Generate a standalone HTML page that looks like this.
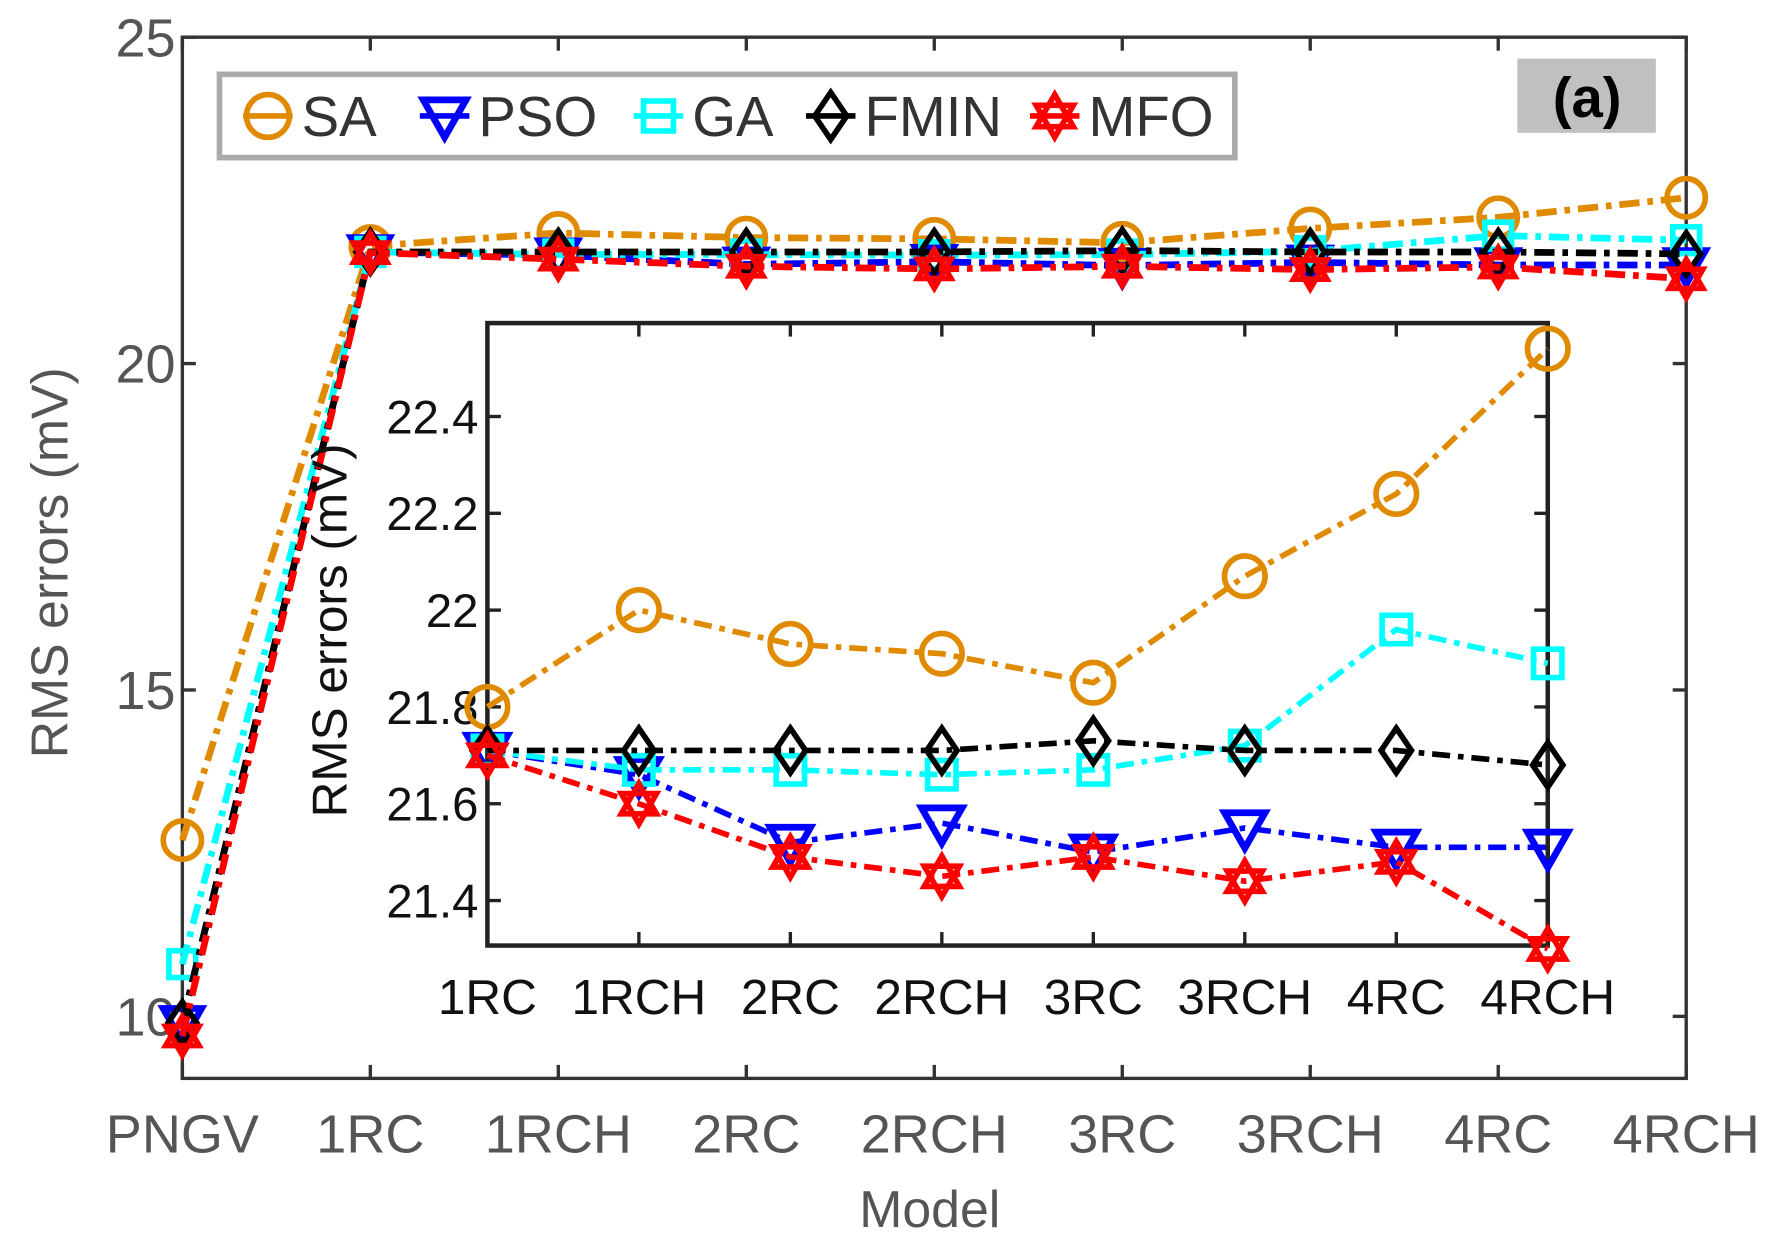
<!DOCTYPE html>
<html><head><meta charset="utf-8"><style>
html,body{margin:0;padding:0;background:#fff;}
svg{display:block;}
text{font-family:"Liberation Sans",sans-serif;}
</style></head><body>
<svg id="chart" width="1765" height="1236" viewBox="0 0 1568 1098" xmlns="http://www.w3.org/2000/svg">
<rect width="1568" height="1098" fill="#fff"/>
<g id="main"></g>
<g id="inset"></g>
<g id="legend"></g>
<g>
<rect x="1348" y="52" width="123" height="66" fill="#c0c0c0"/>
<text x="1410" y="104" font-size="50" font-weight="bold" text-anchor="middle" fill="#000">(a)</text>
</g>
</svg>
<script>
const mainCats = ["PNGV","1RC","1RCH","2RC","2RCH","3RC","3RCH","4RC","4RCH"];
const mainYTicks = [10,15,20,25];
const insetCats = ["1RC","1RCH","2RC","2RCH","3RC","3RCH","4RC","4RCH"];
const insetYTicks = [21.4,21.6,21.8,22,22.2,22.4];
const seriesNames = ["SA","PSO","GA","FMIN","MFO"];
const pngvVals = [12.7,9.9,10.8,9.9,9.7];
const saVals = [21.8,22.0,21.93,21.91,21.85,22.07,22.24,22.54];
const psoVals = [21.71,21.66,21.52,21.56,21.5,21.55,21.51,21.51];
const gaVals = [21.71,21.67,21.67,21.66,21.67,21.72,21.96,21.89];
const fminVals = [21.71,21.71,21.71,21.71,21.73,21.71,21.71,21.68];
const mfoVals = [21.7,21.6,21.49,21.45,21.49,21.44,21.48,21.3];

const allVals=[saVals,psoVals,gaVals,fminVals,mfoVals];
const colors=["#e08a00","#0000ff","#00ffff","#000000","#ff0000"];
const markers=["circle","tri","square","diamond","hex"];
const NS="http://www.w3.org/2000/svg";
function mk(parent,tag,attrs){const e=document.createElementNS(NS,tag);for(const k in attrs)e.setAttribute(k,attrs[k]);parent.appendChild(e);return e;}
function marker(g,type,x,y,r,col){
  let e;
  if(type==="circle") e=mk(g,"circle",{cx:x,cy:y,r:r,fill:"none",stroke:col,"stroke-width":5});
  else if(type==="tri") e=mk(g,"polygon",{points:`${x-r},${y-r*0.75} ${x+r},${y-r*0.75} ${x},${y+r}`,fill:"none",stroke:col,"stroke-width":6});
  else if(type==="square") e=mk(g,"rect",{x:x-r*0.7,y:y-r*0.7,width:r*1.4,height:r*1.4,fill:"none",stroke:col,"stroke-width":5});
  else if(type==="diamond") e=mk(g,"polygon",{points:`${x},${y-r*1.1} ${x+r*0.75},${y} ${x},${y+r*1.1} ${x-r*0.75},${y}`,fill:"none",stroke:col,"stroke-width":5});
  else { const a=r, b=r*0.5;
    e=mk(g,"path",{d:`M${x},${y-a} L${x+a*0.87},${y+b} L${x-a*0.87},${y+b} Z M${x},${y+a} L${x+a*0.87},${y-b} L${x-a*0.87},${y-b} Z`,fill:"none",stroke:col,"stroke-width":5});}
  
  
}
const M={l:162,r:1498,t:33,b:958,ymin:9.05,ymax:25};
const mx=i=>M.l+i*(M.r-M.l)/(mainCats.length-1);
const my=v=>M.b-(v-M.ymin)/(M.ymax-M.ymin)*(M.b-M.t);
const gm=document.getElementById("main");
const frame=mk(gm,"rect",{x:M.l,y:M.t,width:M.r-M.l,height:M.b-M.t,fill:"#fff",stroke:"#333","stroke-width":3});


mainYTicks.forEach(v=>{
  mk(gm,"line",{x1:M.l,x2:M.l+12,y1:my(v),y2:my(v),stroke:"#333","stroke-width":3});
  mk(gm,"line",{x1:M.r,x2:M.r-12,y1:my(v),y2:my(v),stroke:"#333","stroke-width":3});
  const t=mk(gm,"text",{x:M.l-6,y:my(v)+17,"font-size":48,"text-anchor":"end",fill:"#555"});t.textContent=v;
  
  
});
mainCats.forEach((c,i)=>{
  mk(gm,"line",{x1:mx(i),x2:mx(i),y1:M.b,y2:M.b-12,stroke:"#333","stroke-width":3});
  mk(gm,"line",{x1:mx(i),x2:mx(i),y1:M.t,y2:M.t+12,stroke:"#333","stroke-width":3});
  const t=mk(gm,"text",{x:mx(i),y:1024,"font-size":48,"text-anchor":"middle",fill:"#555"});t.textContent=c;
  
  
});
let t=mk(gm,"text",{x:826,y:1090,"font-size":46,"text-anchor":"middle",fill:"#555"});t.textContent="Model";


t=mk(gm,"text",{x:0,y:0,"font-size":46,"text-anchor":"middle",fill:"#555",transform:"translate(60,500) rotate(-90)"});t.textContent="RMS errors (mV)";


allVals.forEach((vals,s)=>{
  const full=[pngvVals[s]].concat(vals);
  const g=mk(gm,"g",{});
  
  
  mk(g,"polyline",{points:full.map((v,i)=>mx(i)+","+my(v)).join(" "),fill:"none",stroke:colors[s],"stroke-width":6,"stroke-dasharray":"18,7,5,7"});
  full.forEach((v,i)=>marker(g,markers[s],mx(i),my(v),17,colors[s]));
});
const I={l:433,r:1375,t:287,b:840,ymin:21.307,ymax:22.593};
const ix=i=>I.l+i*(I.r-I.l)/(insetCats.length-1);
const iy=v=>I.b-(v-I.ymin)/(I.ymax-I.ymin)*(I.b-I.t);
const gi=document.getElementById("inset");
const f2=mk(gi,"rect",{x:I.l,y:I.t,width:I.r-I.l,height:I.b-I.t,fill:"#fff",stroke:"#222","stroke-width":4});


insetYTicks.forEach(v=>{
  mk(gi,"line",{x1:I.l,x2:I.l+12,y1:iy(v),y2:iy(v),stroke:"#222","stroke-width":3});
  mk(gi,"line",{x1:I.r,x2:I.r-12,y1:iy(v),y2:iy(v),stroke:"#222","stroke-width":3});
  const t=mk(gi,"text",{x:I.l-8,y:iy(v)+15,"font-size":42,"text-anchor":"end",fill:"#111"});t.textContent=v;
  
  
});
insetCats.forEach((c,i)=>{
  mk(gi,"line",{x1:ix(i),x2:ix(i),y1:I.b,y2:I.b-12,stroke:"#222","stroke-width":3});
  mk(gi,"line",{x1:ix(i),x2:ix(i),y1:I.t,y2:I.t+12,stroke:"#222","stroke-width":3});
  const t=mk(gi,"text",{x:ix(i),y:901,"font-size":44,"text-anchor":"middle",fill:"#111"});t.textContent=c;
  
  
});
t=mk(gi,"text",{x:0,y:0,"font-size":44,"text-anchor":"middle",fill:"#111",transform:"translate(308,560) rotate(-90)"});t.textContent="RMS errors (mV)";


allVals.forEach((vals,s)=>{
  const g=mk(gi,"g",{});
  
  
  mk(g,"polyline",{points:vals.map((v,i)=>ix(i)+","+iy(v)).join(" "),fill:"none",stroke:colors[s],"stroke-width":5,"stroke-dasharray":"16,7,5,7"});
  vals.forEach((v,i)=>marker(g,markers[s],ix(i),iy(v),18,colors[s]));
});
const gl=document.getElementById("legend");
mk(gl,"rect",{x:195,y:66,width:902,height:74,fill:"#fff",stroke:"#aaa","stroke-width":5});
const lx=[238,395,585,738,937];
seriesNames.forEach((n,s)=>{
  const g=mk(gl,"g",{});
  
  
  mk(g,"line",{x1:lx[s]-22,x2:lx[s]+22,y1:103,y2:103,stroke:colors[s],"stroke-width":5});
  marker(g,markers[s],lx[s],103,19,colors[s]);
  const t=mk(g,"text",{x:lx[s]+30,y:121,"font-size":50,fill:"#333"});t.textContent=n;
});
</script>
</body></html>
